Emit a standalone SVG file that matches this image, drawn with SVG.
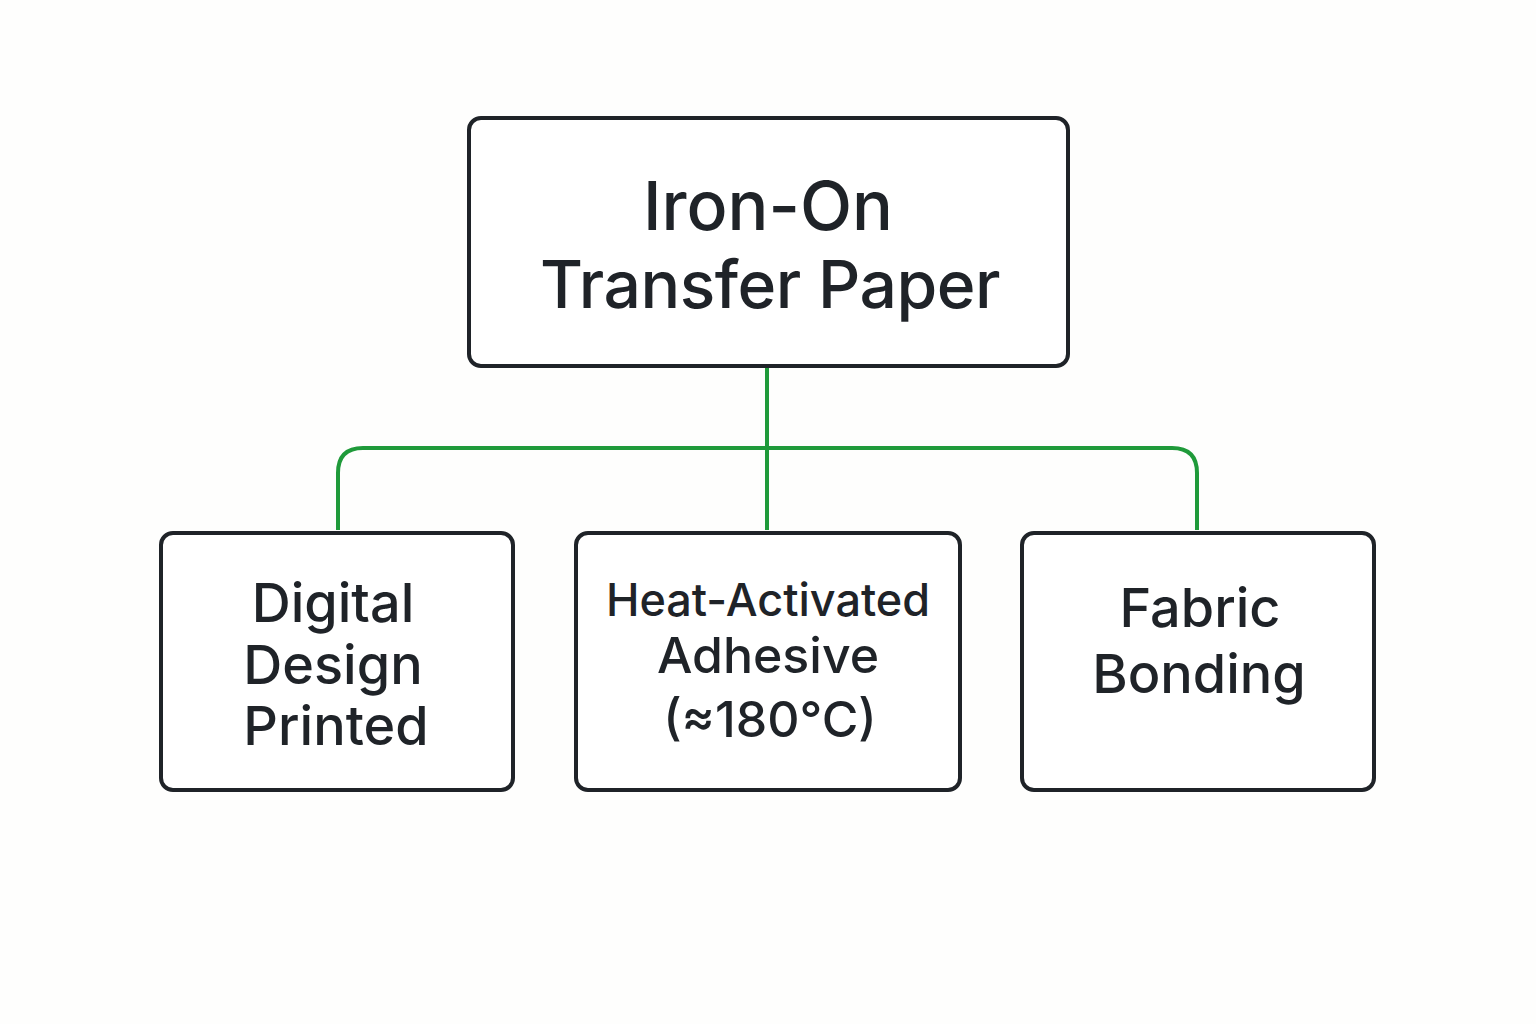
<svg xmlns="http://www.w3.org/2000/svg" width="1536" height="1024" viewBox="0 0 1536 1024">
<style>
.box{fill:#fff;stroke:#1f2328;stroke-width:4}
.t{font-family:Inter,"Liberation Sans",sans-serif;fill:#1f2328;text-anchor:middle;font-weight:500}
.c{fill:none;stroke:#1f9a3a;stroke-width:4}
</style>
<rect width="1536" height="1024" fill="#fefefd"/>
<g id="connectors">
<path class="c" d="M767 366 V530"/>
<path class="c" d="M338 530 V473 Q338 448 363 448 H1172 Q1197 448 1197 473 V530"/>
</g>
<g id="root"><rect class="box" x="469" y="118" width="599" height="248" rx="12"/>
<text class="t" x="768" y="230" font-size="68">Iron-On</text>
<text class="t" x="770" y="308" font-size="66" letter-spacing="-0.5">Transfer Paper</text></g>
<g id="digital"><rect class="box" x="161" y="533" width="352" height="257" rx="12"/>
<text class="t" x="333" y="622" font-size="54">Digital</text>
<text class="t" x="333" y="684" font-size="54">Design</text>
<text class="t" x="336" y="745" font-size="54">Printed</text></g>
<g id="heat"><rect class="box" x="576" y="533" width="384" height="257" rx="12"/>
<text class="t" x="768" y="616" font-size="45">Heat-Activated</text>
<text class="t" x="768" y="673" font-size="50">Adhesive</text>
<text class="t" x="770" y="737" font-size="50">(≈180°C)</text></g>
<g id="fabric"><rect class="box" x="1022" y="533" width="352" height="257" rx="12"/>
<text class="t" x="1200" y="627" font-size="54">Fabric</text>
<text class="t" x="1199" y="693" font-size="54">Bonding</text></g>
</svg>
